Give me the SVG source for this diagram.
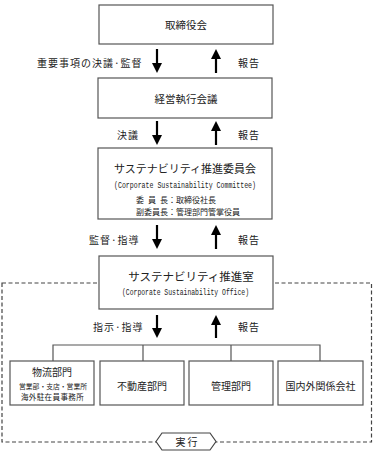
<svg xmlns="http://www.w3.org/2000/svg" width="373" height="456" viewBox="0 0 373 456">
<style>
.box{fill:#fff;stroke:#555;stroke-width:1.2}
.t{font-family:"Noto Sans CJK JP","Noto Sans CJK SC",sans-serif;fill:#222;text-anchor:middle;dominant-baseline:central}
.l{font-family:"Noto Sans CJK JP","Noto Sans CJK SC",sans-serif;fill:#222;dominant-baseline:central;font-size:10px;letter-spacing:1px}
.en{font-family:"Liberation Mono",monospace;fill:#222;font-size:8.6px;dominant-baseline:central}
.ln{fill:none;stroke:#555;stroke-width:1.2}
.shaft{stroke:#000;stroke-width:2.2;fill:none}
.dash{fill:none;stroke:#444;stroke-width:1.2;stroke-dasharray:4 2.5}
</style>
<rect class="dash" x="2" y="283" width="369.5" height="159"/>
<g id="connectors">
<path class="shaft" d="M157,49 V64"/><path d="M152,63 L162,63 L157,73 Z" fill="#000"/>
<path class="shaft" d="M216,58 V73"/><path d="M211,59 L221,59 L216,49 Z" fill="#000"/>
<path class="shaft" d="M157,121 V136"/><path d="M152,135 L162,135 L157,145 Z" fill="#000"/>
<path class="shaft" d="M216,130 V145"/><path d="M211,131 L221,131 L216,121 Z" fill="#000"/>
<path class="shaft" d="M157,225 V240"/><path d="M152,239 L162,239 L157,249 Z" fill="#000"/>
<path class="shaft" d="M216,234 V249"/><path d="M211,235 L221,235 L216,225 Z" fill="#000"/>
<path class="shaft" d="M157,315 V329"/><path d="M152,328 L162,328 L157,338 Z" fill="#000"/>
<path class="shaft" d="M216,324 V338"/><path d="M211,325 L221,325 L216,315 Z" fill="#000"/>
<path class="ln" d="M53,361 V345 H320 V361 M143,345 V361 M231,345 V361"/>
<text class="l" x="37" y="62">重要事項の決議·監督</text>
<text class="l" x="238" y="62">報告</text>
<text class="l" x="117" y="134">決議</text>
<text class="l" x="238" y="134">報告</text>
<text class="l" x="89" y="239">監督·指導</text>
<text class="l" x="238" y="239">報告</text>
<text class="l" x="93" y="326">指示·指導</text>
<text class="l" x="238" y="326">報告</text>
</g>
<g id="board">
<rect class="box" x="99" y="5" width="174" height="39"/>
<text class="t" x="186" y="24.5" font-size="10.5">取締役会</text>
</g>
<g id="exec">
<rect class="box" x="98" y="78" width="174" height="40"/>
<text class="t" x="186" y="98" font-size="10.5">経営執行会議</text>
</g>
<g id="committee">
<rect class="box" x="98" y="148" width="174" height="71"/>
<text class="t" x="185" y="168" font-size="11">サステナビリティ推進委員会</text>
<text class="en" x="114" y="186" textLength="142" lengthAdjust="spacingAndGlyphs">(Corporate Sustainability Committee)</text>
<text class="t" x="140" y="199" font-size="8">委</text>
<text class="t" x="152" y="199" font-size="8">員</text>
<text class="t" x="164" y="199" font-size="8">長</text>
<text class="t" x="168" y="199" font-size="8" style="text-anchor:start">：取締役社長</text>
<text class="t" x="136" y="211" font-size="8" style="text-anchor:start">副委員長：管理部門管掌役員</text>
</g>
<g id="office">
<rect class="box" x="99" y="256" width="174" height="53"/>
<text class="t" x="191" y="276" font-size="11.5">サステナビリティ推進室</text>
<text class="en" x="122" y="293" textLength="127" lengthAdjust="spacingAndGlyphs">(Corporate Sustainability Office)</text>
</g>
<g id="logistics">
<rect class="box" x="10" y="361" width="84" height="44"/>
<text class="t" x="52" y="371" font-size="10">物流部門</text>
<text class="t" x="53" y="386" font-size="6.8">営業部・支店・営業所</text>
<text class="t" x="52.5" y="396" font-size="7.5" letter-spacing="0.4">海外駐在員事務所</text>
</g>
<g id="realestate">
<rect class="box" x="100" y="361" width="84" height="44"/>
<text class="t" x="142" y="385" font-size="10">不動産部門</text>
</g>
<g id="admin">
<rect class="box" x="189" y="361" width="84" height="44"/>
<text class="t" x="231" y="385" font-size="10">管理部門</text>
</g>
<g id="affiliates">
<rect class="box" x="278" y="361" width="85" height="44"/>
<text class="t" x="320.5" y="385" font-size="10">国内外関係会社</text>
</g>
<g id="execution">
<path d="M156,441.5 L162,433 L210,433 L216,441.5 L210,450 L162,450 Z" fill="#fff" stroke="#444" stroke-width="1.2"/>
<text class="t" x="186.5" y="441.5" font-size="10">実 行</text>
</g>
</svg>
